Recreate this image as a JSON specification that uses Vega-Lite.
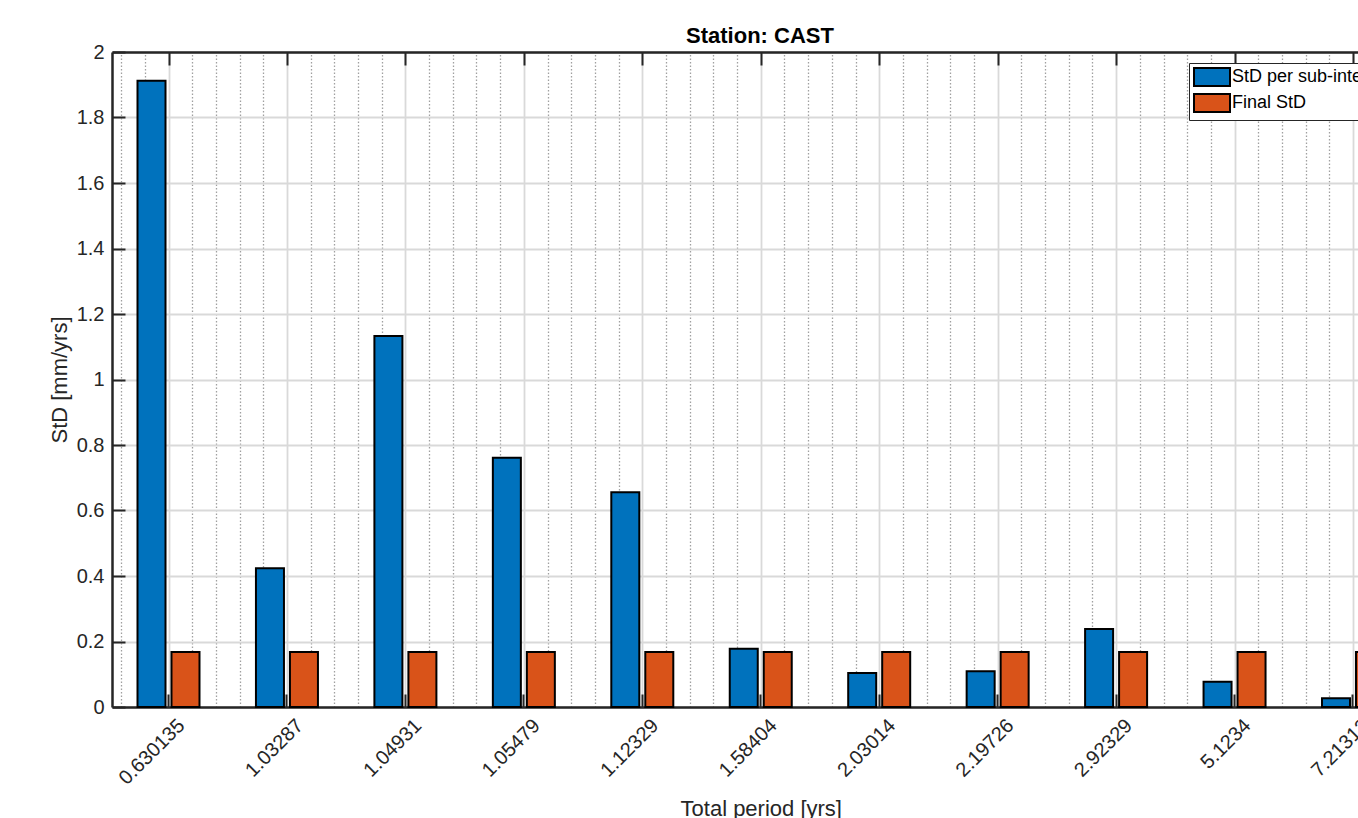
{
  "$schema": "https://vega.github.io/schema/vega-lite/v6.json",
  "width": 1246,
  "height": 655,
  "autosize": {"type": "none"},
  "padding": {"left": 112, "top": 52, "right": 0, "bottom": 111},
  "background": "white",
  "config": {
    "view": {"stroke": null},
    "font": "Liberation Sans",
    "axis": {"labelFont": "Liberation Sans", "titleFont": "Liberation Sans", "labelColor": "#262626", "titleColor": "#262626"}
  },
  "title": {"text": "Station: CAST", "fontSize": 22, "fontWeight": "bold", "font": "Liberation Sans", "color": "#000000", "anchor": "middle", "dx": 25, "dy": 14, "offset": 8},
  "data": {"values": [
    {"period": "0.630135", "series": "StD per sub-interval", "std": 1.912},
    {"period": "0.630135", "series": "Final StD", "std": 0.168},
    {"period": "1.03287", "series": "StD per sub-interval", "std": 0.424},
    {"period": "1.03287", "series": "Final StD", "std": 0.168},
    {"period": "1.04931", "series": "StD per sub-interval", "std": 1.133},
    {"period": "1.04931", "series": "Final StD", "std": 0.168},
    {"period": "1.05479", "series": "StD per sub-interval", "std": 0.761},
    {"period": "1.05479", "series": "Final StD", "std": 0.168},
    {"period": "1.12329", "series": "StD per sub-interval", "std": 0.656},
    {"period": "1.12329", "series": "Final StD", "std": 0.168},
    {"period": "1.58404", "series": "StD per sub-interval", "std": 0.178},
    {"period": "1.58404", "series": "Final StD", "std": 0.168},
    {"period": "2.03014", "series": "StD per sub-interval", "std": 0.104},
    {"period": "2.03014", "series": "Final StD", "std": 0.168},
    {"period": "2.19726", "series": "StD per sub-interval", "std": 0.109},
    {"period": "2.19726", "series": "Final StD", "std": 0.168},
    {"period": "2.92329", "series": "StD per sub-interval", "std": 0.238},
    {"period": "2.92329", "series": "Final StD", "std": 0.168},
    {"period": "5.1234", "series": "StD per sub-interval", "std": 0.077},
    {"period": "5.1234", "series": "Final StD", "std": 0.168},
    {"period": "7.21312", "series": "StD per sub-interval", "std": 0.027},
    {"period": "7.21312", "series": "Final StD", "std": 0.168}
  ]},
  "layer": [
    {
      "mark": {"type": "point", "opacity": 0},
      "encoding": {
        "x": {
          "datum": 1, "type": "quantitative",
          "scale": {"domain": [0.523, 11.042], "nice": false, "zero": false},
          "axis": {
            "orient": "top", "title": null, "labels": false,
            "values": [0.6,0.8,1,1.2,1.4,1.6,1.8,2,2.2,2.4,2.6,2.8,3,3.2,3.4,3.6,3.8,4,4.2,4.4,4.6,4.8,5,5.2,5.4,5.6,5.8,6,6.2,6.4,6.6,6.8,7,7.2,7.4,7.6,7.8,8,8.2,8.4,8.6,8.8,9,9.2,9.4,9.6,9.8,10,10.2,10.4,10.6,10.8,11],
            "domain": true, "domainColor": "#262626", "domainWidth": 2.5,
            "ticks": true, "tickSize": -13, "tickWidth": 2, "tickColor": "#262626",
            "tickOpacity": {"condition": {"test": "datum.value % 1 === 0", "value": 1}, "value": 0},
            "grid": true,
            "gridColor": {"condition": {"test": "datum.value % 1 === 0", "value": "#d9d9d9"}, "value": "#a0a0a0"},
            "gridWidth": {"condition": {"test": "datum.value % 1 === 0", "value": 1.8}, "value": 1.3},
            "gridDash": {"condition": {"test": "datum.value % 1 === 0", "value": []}, "value": [1.5, 2]}
          }
        },
        "y": {"datum": 0, "type": "quantitative"}
      }
    },
    {
      "mark": {"type": "bar", "stroke": "#000000", "strokeWidth": 2, "opacity": 1},
      "encoding": {
        "x": {
          "field": "period", "type": "nominal", "sort": null,
          "scale": {"type": "band", "range": [0, 1297.5], "paddingInner": 0.4766, "paddingOuter": 0.2153},
          "axis": {
            "orient": "bottom", "title": "Total period [yrs]", "titleFontSize": 22, "titleFontWeight": "normal", "titlePadding": 10,
            "labelAngle": -45, "labelFontSize": 20, "labelPadding": 21, "labelOffset": 6, "bandPosition": 0.5,
            "domain": true, "domainColor": "#262626", "domainWidth": 2.5,
            "ticks": true, "tickSize": -13, "tickWidth": 2, "tickColor": "#262626",
            "grid": false
          }
        },
        "xOffset": {
          "field": "series", "type": "nominal",
          "scale": {"domain": ["StD per sub-interval", "Final StD"], "paddingInner": 0.176, "paddingOuter": 0}
        },
        "y": {
          "field": "std", "type": "quantitative",
          "scale": {"domain": [0, 2], "nice": false, "zero": true},
          "axis": {
            "orient": "left", "title": "StD [mm/yrs]", "titleFontSize": 22, "titleFontWeight": "normal", "titlePadding": 5,
            "values": [0,0.05,0.1,0.15,0.2,0.25,0.3,0.35,0.4,0.45,0.5,0.55,0.6,0.65,0.7,0.75,0.8,0.85,0.9,0.95,1,1.05,1.1,1.15,1.2,1.25,1.3,1.35,1.4,1.45,1.5,1.55,1.6,1.65,1.7,1.75,1.8,1.85,1.9,1.95,2],
            "labelExpr": "abs(datum.value*5 - round(datum.value*5)) < 0.001 ? format(datum.value, '~g') : ''",
            "labelFontSize": 20, "labelPadding": 21,
            "domain": true, "domainColor": "#262626", "domainWidth": 2.5,
            "ticks": true, "tickSize": -13, "tickWidth": 2, "tickColor": "#262626",
            "tickOpacity": {"condition": {"test": "abs(datum.value*5 - round(datum.value*5)) < 0.001", "value": 1}, "value": 0},
            "grid": true,
            "gridColor": {"condition": {"test": "abs(datum.value*5 - round(datum.value*5)) < 0.001", "value": "#d9d9d9"}, "value": "#a0a0a0"},
            "gridWidth": {"condition": {"test": "abs(datum.value*5 - round(datum.value*5)) < 0.001", "value": 1.8}, "value": 1.3},
            "gridDash": {"condition": {"test": "abs(datum.value*5 - round(datum.value*5)) < 0.001", "value": []}, "value": [1.5, 2]}
          }
        },
        "color": {
          "field": "series", "type": "nominal",
          "scale": {"domain": ["StD per sub-interval", "Final StD"], "range": ["#0072BD", "#D95319"]},
          "legend": {
            "orient": "none", "legendX": 1077, "legendY": 11, "title": null,
            "fillColor": "#ffffff", "strokeColor": "#262626", "padding": 4,
            "symbolType": "M-2,-1H2V1H-2Z", "symbolSize": 324, "symbolOffset": 9,
            "symbolStrokeColor": "#000000", "symbolStrokeWidth": 2, "symbolOpacity": 1,
            "labelFontSize": 18, "labelFont": "Liberation Sans", "labelColor": "#000000",
            "labelOffset": 10, "labelLimit": 0, "rowPadding": 0
          }
        }
      }
    }
  ],
  "resolve": {"scale": {"x": "independent"}, "axis": {"x": "independent"}}
}
